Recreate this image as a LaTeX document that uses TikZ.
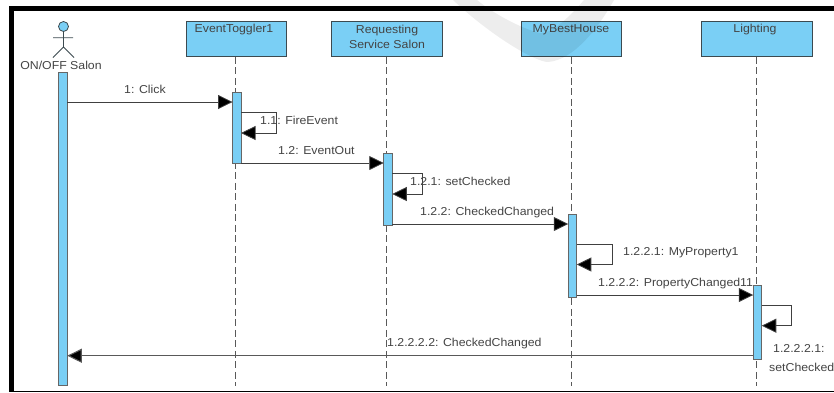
\documentclass[tikz,border=0pt]{standalone}
\usepackage{fontspec}
\setmainfont[FakeStretch=1.07]{Liberation Sans}
\usetikzlibrary{arrows.meta}
\definecolor{seqblue}{HTML}{7ACFF5}
\definecolor{seqedge}{HTML}{3C4A50}
\definecolor{lblgray}{HTML}{444444}
\tikzset{
  x=1pt,y=-1pt,
  obj/.style={draw=seqedge,line width=.9pt,fill=seqblue,minimum width=#1,minimum height=35pt,inner sep=0pt,outer sep=0pt},
  objtxt/.style={font=\fontsize{11.5}{15}\selectfont,text=lblgray,align=center,anchor=center,inner sep=0pt},
  lifeline/.style={draw=gray!70!black,line width=1pt,dash pattern=on 7pt off 3.5pt},
  bar/.style={draw=gray!80!black,line width=1pt,fill=seqblue,minimum width=8.5pt,inner sep=0pt,outer sep=0pt},
  msg/.style={draw=black!75,line width=.8pt,-{Triangle[length=14.5pt,width=14pt,fill=black]}},
  lbl/.style={font=\fontsize{11.5}{15}\selectfont,text=lblgray,anchor=west,inner sep=0pt,align=left,text height=8pt,text depth=2pt},
}
\begin{document}
\begin{tikzpicture}
\useasboundingbox (0,0) rectangle (834,392);
\fill[white] (0,0) rectangle (834,392);
% frame
\fill[black] (9,6) rectangle (834,11);
\fill[black] (9,6) rectangle (14,392);
\fill[black] (9,391) rectangle (834,392);
% objects
\node[obj=100pt] (o1) at (236,39.3) {};
\node[obj=111pt] (o2) at (387.2,39.3) {};
\node[obj=100pt] (o3) at (571.8,39.3) {};
\node[obj=111pt] (o4) at (756.8,39.3) {};
\node[objtxt] (t1) at (234,30) {EventToggler1};
\node[objtxt] (t2) at (387,36.5) {Requesting\\Service Salon};
\node[objtxt] (t3) at (571,30) {MyBestHouse};
\node[objtxt] (t4) at (755,30) {Lighting};
% watermark
\fill[black,opacity=.07] (453,0) .. controls (490,35) and (535,62) .. (548,62)
  .. controls (575,60) and (600,25) .. (614,0) -- (584,0)
  .. controls (565,22) and (550,34) .. (540,33) .. controls (525,30) and (495,15) .. (477,0) -- cycle;
% actor
\draw[seqedge,line width=.8pt,fill=seqblue] (63.5,26.5) circle (5);
\draw[seqedge,line width=.8pt] (63.5,31.5) -- (63.5,47) (53,37.7) -- (73,37.7) (63.5,47) -- (53,57.5) (63.5,47) -- (74,57.5);
\node[font=\fontsize{11.5}{13}\selectfont,text=lblgray,inner sep=0pt] (actor) at (61,65) {ON/OFF Salon};
% lifelines
\coordinate (e1) at (235.5,386);
\coordinate (e2) at (386.8,386);
\coordinate (e3) at (571.3,386);
\coordinate (e4) at (756,386);
\draw[lifeline] (e1 |- o1.south) -- (e1);
\draw[lifeline] (e2 |- o2.south) -- (e2);
\draw[lifeline] (e3 |- o3.south) -- (e3);
\draw[lifeline] (e4 |- o4.south) -- (e4);
% bars
\node[bar,minimum height=313pt] (b0) at (63,228.5) {};
\node[bar,minimum height=70.5pt] (b1) at (236.8,127.8) {};
\node[bar,minimum height=72pt] (b2) at (388,189) {};
\node[bar,minimum height=83pt] (b3) at (572.5,255.5) {};
\node[bar,minimum height=74pt] (b4) at (757.5,322) {};
% messages
\draw[msg] (b0.east |- 0,102) -- (b1.west |- 0,102);
\node[lbl] (m1) at (124,90) {1: Click};
\draw[msg] (b1.east |- 0,163) -- (b2.west |- 0,163);
\node[lbl] (m2) at (278,151) {1.2: EventOut};
\draw[msg] (b2.east |- 0,224) -- (b3.west |- 0,224);
\node[lbl] (m3) at (420,212) {1.2.2: CheckedChanged};
\draw[msg] (b3.east |- 0,295) -- (b4.west |- 0,295);
\node[lbl] (m4) at (598,283) {1.2.2.2: PropertyChanged11};
\draw[msg,line width=1.1pt,draw=black!65] (b4.west |- 0,355.7) -- (b0.east |- 0,355.7);
\node[lbl] (m5) at (387,343) {1.2.2.2.2: CheckedChanged};
% self calls
\draw[msg] (b1.east |- 0,112.7) -- (276,112.7) -- (276,133) -- (b1.east |- 0,133);
\node[lbl] (s1) at (260,121) {1.1: FireEvent};
\draw[msg] (b2.east |- 0,173) -- (422,173) -- (422,194) -- (b2.east |- 0,194);
\node[lbl] (s2) at (410,182) {1.2.1: setChecked};
\draw[msg] (b3.east |- 0,244) -- (612.5,244) -- (612.5,264.5) -- (b3.east |- 0,264.5);
\node[lbl] (s3) at (623,252) {1.2.2.1: MyProperty1};
\draw[msg] (b4.east |- 0,305) -- (791,305) -- (791,325.7) -- (b4.east |- 0,325.7);
\node[lbl] (s4) at (773,349) {1.2.2.2.1:};
\node[lbl] (s5) at (769,368) {setChecked};
\end{tikzpicture}
\end{document}
